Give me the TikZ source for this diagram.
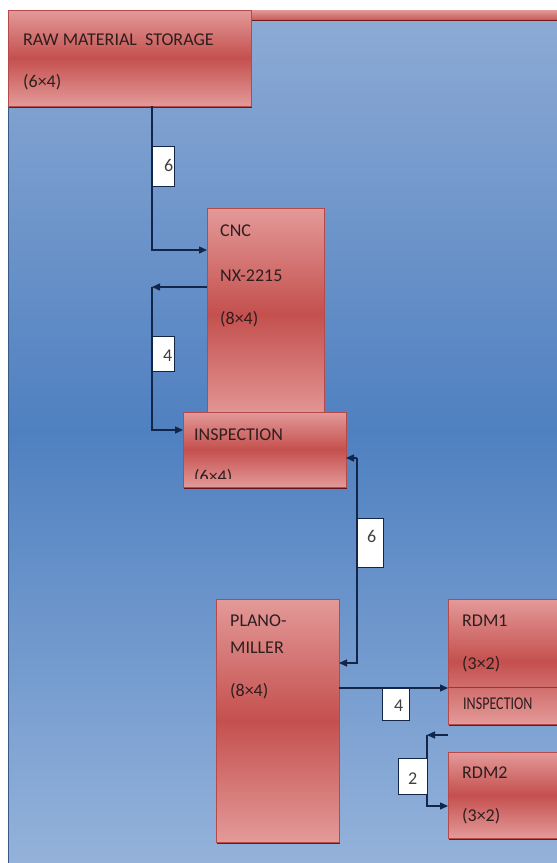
\documentclass[tikz,border=0pt]{standalone}
\usepackage{fontspec}
\setmainfont{Carlito}
\usetikzlibrary{arrows.meta,shadows}
\definecolor{bgtop}{HTML}{8EABD5}
\definecolor{bgmid}{HTML}{4F80C0}
\definecolor{bgbot}{HTML}{95B3DB}
\definecolor{boxlight}{HTML}{E39A99}
\definecolor{boxdark}{HTML}{C4504E}
\definecolor{boxedge}{HTML}{B54A48}
\definecolor{navy}{HTML}{14254A}
\definecolor{txt}{HTML}{2E1E1E}
\tikzset{
  machine/.style={draw=boxedge, line width=0.6pt, inner sep=0pt, outer sep=0pt,
    anchor=north west, top color=boxlight, bottom color=boxlight, middle color=boxdark,
    drop shadow={shadow xshift=0.5pt, shadow yshift=-1.8pt, fill=black!60!red, opacity=0.85}},
  lbl/.style={anchor=base west, inner sep=0pt, text=txt, font=\fontsize{18pt}{20pt}\selectfont},
  numbox/.style={draw=navy, line width=1pt, fill=white, anchor=north west, inner sep=0pt, outer sep=0pt},
  digit/.style={anchor=base west, inner sep=0pt, text=black!75, font=\fontsize{18pt}{20pt}\selectfont},
  conn/.style={draw=navy, line width=1.4pt, -{Triangle[length=8pt,width=7pt]}},
}
\begin{document}
\begin{tikzpicture}[x=1pt,y=-1pt]
\useasboundingbox (0,0) rectangle (557,863);
\clip (0,0) rectangle (557,863);
% background
\shade[top color=bgtop, bottom color=bgmid] (8,10) rectangle (570,431);
\shade[top color=bgmid, bottom color=bgbot] (8,430) rectangle (570,870);
\draw[bgmid!70!black, line width=0.8pt] (8.4,10) -- (8.4,870);
% top strip
\shade[top color=boxlight, bottom color=boxdark!80!boxlight, drop shadow={shadow xshift=0pt, shadow yshift=-1.5pt, fill=black!60!red, opacity=0.85}] (8,10) rectangle (570,19);
% boxes
\node[machine, minimum width=243pt, minimum height=96pt] (raw) at (8,10) {};
\node[machine, minimum width=117pt, minimum height=212pt] (cnc) at (207,208) {};
\node[machine, minimum width=163pt, minimum height=75pt] (insp) at (183,412) {};
\node[machine, minimum width=123pt, minimum height=243pt] (plano) at (216,599) {};
\node[machine, minimum width=130pt, minimum height=125pt] (rdm1) at (448,599) {};
\node[machine, minimum width=130pt, minimum height=86pt] (rdm2) at (448,752) {};
\draw[boxedge!80!black, line width=0.7pt] (rdm1.west |- 0,687) -- (rdm1.east |- 0,687);
% texts
\node[lbl] (rawa) at (23,45) {RAW MATERIAL\ \ STORAGE};
\node[lbl] (rawb) at (23,87) {(6×4)};
\node[lbl] (cnca) at (220,236) {CNC};
\node[lbl] (cncb) at (220,281) {NX-2215};
\node[lbl] (cncc) at (220,324) {(8×4)};
\node[lbl] (inspa) at (194,440) {INSPECTION};
\begin{scope}
\clip (183,412) rectangle (346,478);
\node[lbl] (inspb) at (194,482) {(6×4)};
\end{scope}
\node[lbl] (planoa) at (230,626) {PLANO-};
\node[lbl] (planob) at (230,653) {MILLER};
\node[lbl] (planoc) at (230,696) {(8×4)};
\node[lbl] (rdm1a) at (462,626) {RDM1};
\node[lbl] (rdm1b) at (462,669) {(3×2)};
\node[lbl] (rdm1c) at (463,709) {\scalebox{0.78}[1]{INSPECTION}};
\node[lbl] (rdm2a) at (462,778) {RDM2};
\node[lbl] (rdm2b) at (462,821) {(3×2)};
% helper coordinates
\coordinate (y250) at (0,250);
\coordinate (y287) at (0,287);
\coordinate (y430) at (0,430);
\coordinate (y458) at (0,458);
\coordinate (y663) at (0,663);
\coordinate (y688) at (0,688);
\coordinate (y735) at (0,735);
\coordinate (y806) at (0,806);
% label boxes (positions)
\coordinate (n1pos) at (152,146);
\coordinate (n2pos) at (152,336);
\coordinate (n3pos) at (357,518);
\coordinate (n4pos) at (382,688);
\coordinate (n5pos) at (398,758);
% connectors
\draw[conn] (n1pos |- raw.south) |- (cnc.west |- y250);
\draw[conn] (cnc.west |- y287) -- (n2pos |- y287);
\draw[conn] (n2pos |- y287) |- (insp.west |- y430);
\draw[conn] (n3pos |- y458) -- (insp.east |- y458);
\draw[conn] (n3pos |- y458) |- (plano.east |- y663);
\draw[conn] (plano.east |- y688) -- (rdm1.west |- y688);
\coordinate (c2) at (427,735);
\draw[conn] (rdm1.west |- y735) -- (c2);
\draw[conn] (c2) |- (rdm2.west |- y806);
% number boxes
\node[numbox, minimum width=22pt, minimum height=40pt] (n1) at (n1pos) {};
\node[digit] (d1) at (164,171) {6};
\node[numbox, minimum width=22pt, minimum height=35pt] (n2) at (n2pos) {};
\node[digit] (d2) at (163,361) {4};
\node[numbox, minimum width=26pt, minimum height=49pt] (n3) at (n3pos) {};
\node[digit] (d3) at (367,542) {6};
\node[numbox, minimum width=27pt, minimum height=32pt] (n4) at (n4pos) {};
\node[digit] (d4) at (394,711) {4};
\node[numbox, minimum width=29pt, minimum height=36pt] (n5) at (n5pos) {};
\node[digit] (d5) at (408,784) {2};
\end{tikzpicture}
\end{document}
